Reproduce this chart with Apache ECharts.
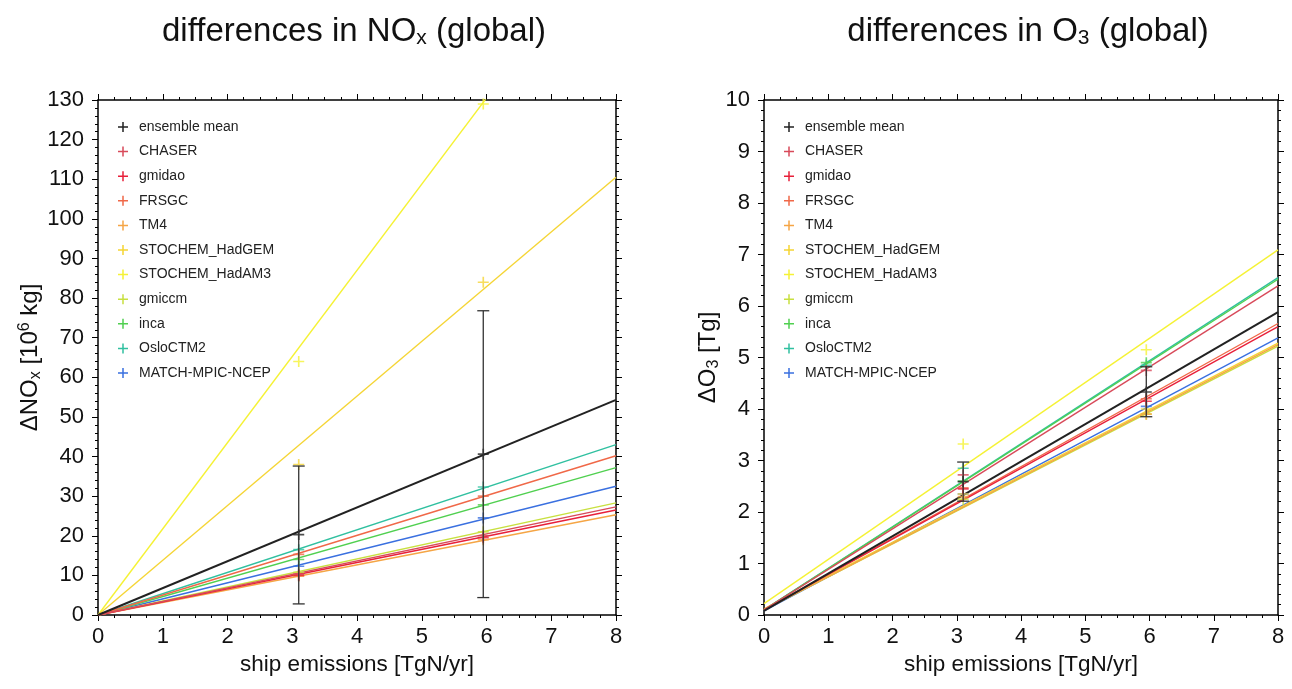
<!DOCTYPE html>
<html>
<head>
<meta charset="utf-8">
<script src="https://cdn.jsdelivr.net/npm/echarts@6/dist/echarts.min.js"></script>
<style>
    html, body { margin: 0; padding: 0; background: #fff; }
    #chart { width: 1292px; height: 689px; }
</style>
</head>
<body>
<div id="chart"></div>
<script>
const models = ['ensemble mean', 'CHASER', 'gmidao', 'FRSGC', 'TM4', 'STOCHEM_HadGEM',
    'STOCHEM_HadAM3', 'gmiccm', 'inca', 'OsloCTM2', 'MATCH-MPIC-NCEP'];
const colors = ['#222222', '#d84a5a', '#e8203a', '#f06848', '#f5a545', '#f5d535',
    '#f5f235', '#c8e040', '#50d050', '#30c0a0', '#3a70e0'];

const xTicks = [0, 1, 2, 3, 4, 5, 6, 7, 8];
const fitX = [0, 8];
const markerX = [3.1, 5.95];

// NOx, 10^6 kg
const noxFitStart = [0, 0, 0, 0, 0, 0, 0, 0, 0, 0, 0];
const noxFitEnd = [54.3, 27.3, 26.5, 40.2, 25.3, 110.5, 174, 28.3, 37.2, 43.0, 32.5];
const noxAt31 = [20.3, 10.3, 10.0, 15.3, 9.8, 38, 64, 10.8, 14.0, 16.5, 12.3];
const noxAt595 = [40.6, 20.0, 19.5, 30.0, 19.0, 84, 129, 21.0, 27.8, 32.3, 24.5];
const noxErrLow = [2.8, 4.4];
const noxErrHigh = [37.6, 76.8];

// O3, Tg
const o3FitStart = [0.08, 0.1, 0.1, 0.1, 0.1, 0.12, 0.22, 0.1, 0.1, 0.1, 0.08];
const o3FitEnd = [5.88, 6.39, 5.6, 5.66, 5.25, 5.28, 7.09, 5.22, 6.52, 6.55, 5.38];
const o3At31 = [2.59, 2.72, 2.45, 2.47, 2.3, 2.35, 3.32, 2.25, 2.6, 2.85, 2.35];
const o3At595 = [4.33, 4.75, 4.15, 4.2, 3.9, 4.0, 5.15, 3.9, 4.9, 4.85, 4.05];
const o3ErrLow = [2.21, 3.85];
const o3ErrHigh = [2.97, 4.82];

const FONT = 'Liberation Sans';
const plusIcon = 'path://M8.5,0H11.5V8.5H20V11.5H11.5V20H8.5V11.5H0V8.5H8.5Z';

function xAxes(gridIndex) {
    let base = {
        type: 'value', gridIndex, min: 0, max: 8, interval: 1,
        splitLine: { show: false },
        axisLine: { onZero: false, lineStyle: { color: '#000', width: 1.5 } },
        axisTick: { length: 6, lineStyle: { color: '#000' } },
        minorTick: { show: true, splitNumber: 4, length: 3, lineStyle: { color: '#000' } }
    };
    return [
        { ...base, position: 'bottom',
          name: 'ship emissions [TgN/yr]', nameLocation: 'middle', nameGap: 37,
          nameTextStyle: { fontFamily: FONT, fontSize: 22.5, color: '#111' },
          axisLabel: { fontFamily: FONT, fontSize: 22, color: '#111', margin: 11 } },
        { ...base, position: 'top', axisLabel: { show: false } }
    ];
}

function yAxes(gridIndex, max, interval, name, rich, gap) {
    let base = {
        type: 'value', gridIndex, min: 0, max, interval,
        splitLine: { show: false },
        axisLine: { onZero: false, lineStyle: { color: '#000', width: 1.5 } },
        axisTick: { length: 6, lineStyle: { color: '#000' } },
        minorTick: { show: true, splitNumber: 5, length: 3, lineStyle: { color: '#000' } }
    };
    return [
        { ...base, position: 'left',
          name, nameLocation: 'middle', nameGap: gap, nameRotate: 90,
          nameTextStyle: { fontFamily: FONT, fontSize: 24, color: '#111', rich },
          axisLabel: { fontFamily: FONT, fontSize: 22, color: '#111', margin: 14 } },
        { ...base, position: 'right', axisLabel: { show: false } }
    ];
}

function buildSeries(xIdx, yIdx, fitStart, fitEnd, at31, at595, errLow, errHigh) {
    let series = [];
    for (let i = models.length - 1; i >= 0; i--) {
        series.push({
            name: models[i], type: 'line', xAxisIndex: xIdx, yAxisIndex: yIdx,
            data: [[fitX[0], fitStart[i]], [fitX[1], fitEnd[i]]],
            showSymbol: false, symbol: 'none', silent: true,
            color: colors[i],
            lineStyle: { color: colors[i], width: i === 0 ? 2 : 1.4 },
            z: i === 0 ? 4 : 3
        });
        series.push({
            name: models[i], type: 'scatter', xAxisIndex: xIdx, yAxisIndex: yIdx,
            data: [[markerX[0], at31[i]], [markerX[1], at595[i]]],
            symbol: plusIcon, symbolSize: 11,
            itemStyle: { color: colors[i] },
            z: 5
        });
    }
    let errData = markerX.map((x, k) => [x, errLow[k], errHigh[k]]);
    series.push({
        type: 'custom', xAxisIndex: xIdx, yAxisIndex: yIdx,
        data: errData, encode: { x: 0, y: [1, 2] }, z: 6,
        renderItem: function (params, api) {
            let lo = api.coord([api.value(0), api.value(1)]);
            let hi = api.coord([api.value(0), api.value(2)]);
            let style = { stroke: '#333', lineWidth: 1.3 };
            return {
                type: 'group',
                children: [
                    { type: 'line', shape: { x1: lo[0], y1: lo[1], x2: hi[0], y2: hi[1] }, style },
                    { type: 'line', shape: { x1: lo[0] - 6, y1: lo[1], x2: lo[0] + 6, y2: lo[1] }, style },
                    { type: 'line', shape: { x1: hi[0] - 6, y1: hi[1], x2: hi[0] + 6, y2: hi[1] }, style }
                ]
            };
        }
    });
    return series;
}

function legend(left) {
    return {
        data: models, orient: 'vertical', left, top: 115,
        icon: plusIcon, itemWidth: 10, itemHeight: 10, itemGap: 10.6,
        selectedMode: false,
        textStyle: { fontFamily: FONT, fontSize: 14, color: '#222', padding: [0, 0, 0, 6] }
    };
}

let chartDom = document.getElementById('chart');
let myChart = echarts.init(chartDom);

let titleStyle = {
    fontFamily: FONT, fontSize: 33, fontWeight: 'normal', color: '#111',
    rich: {
        n: { fontFamily: FONT, fontSize: 33, color: '#111' },
        sub: { fontFamily: FONT, fontSize: 21, color: '#111', verticalAlign: 'bottom', padding: [14, 0, 0, 0] }
    }
};

let nameRich = {
    sub: { fontFamily: FONT, fontSize: 16, color: '#111', verticalAlign: 'bottom', padding: [11, 0, 0, 0] },
    sup: { fontFamily: FONT, fontSize: 16, color: '#111', verticalAlign: 'top', padding: [0, 0, 11, 0] }
};

let option = {
    animation: false,
    backgroundColor: '#fff',
    title: [
        { text: 'differences in NO{sub|x} (global)', left: 349, top: 9, textAlign: 'center', textStyle: titleStyle },
        { text: 'differences in O{sub|3} (global)', left: 1023, top: 9, textAlign: 'center', textStyle: titleStyle }
    ],
    legend: [legend(113), legend(779)],
    grid: [
        { left: 98, top: 100, width: 518, height: 515 },
        { left: 764, top: 100, width: 514, height: 515 }
    ],
    xAxis: [...xAxes(0), ...xAxes(1)],
    yAxis: [
        ...yAxes(0, 130, 10, 'ΔNO{sub|x} [10{sup|6} kg]', nameRich, 48),
        ...yAxes(1, 10, 1, 'ΔO{sub|3} [Tg]', nameRich, 40)
    ],
    series: [
        ...buildSeries(0, 0, noxFitStart, noxFitEnd, noxAt31, noxAt595, noxErrLow, noxErrHigh),
        ...buildSeries(2, 2, o3FitStart, o3FitEnd, o3At31, o3At595, o3ErrLow, o3ErrHigh)
    ]
};

option && myChart.setOption(option);
</script>
</body>
</html>
